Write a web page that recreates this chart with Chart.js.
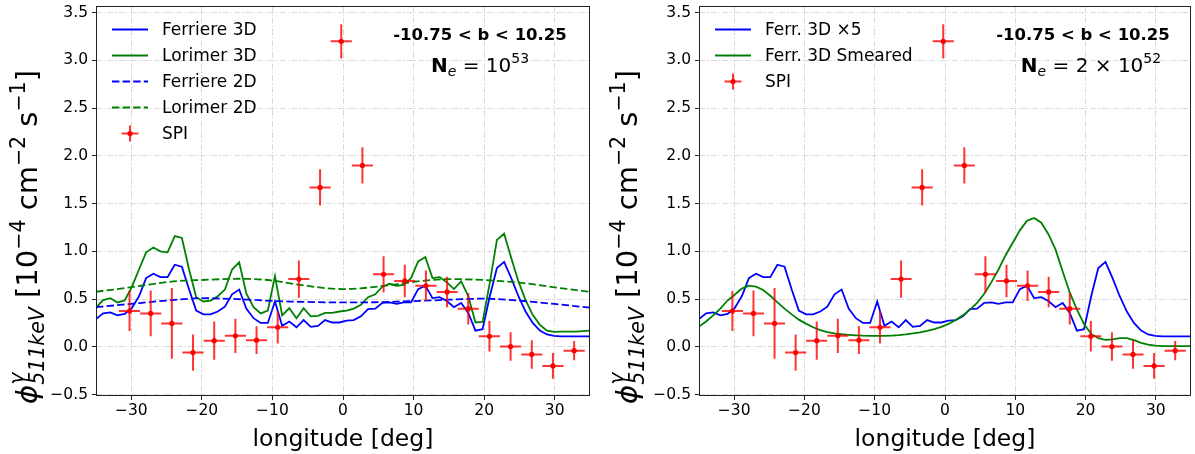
<!DOCTYPE html>
<html>
<head>
<meta charset="utf-8">
<script src="https://cdn.jsdelivr.net/npm/chart.js@4.4.1/dist/chart.umd.min.js"></script>
<style>
  body { margin: 0; background: #fff; width: 1195px; height: 454px; overflow: hidden; position: relative; }
  .panel { position: absolute; top: 0; height: 454px; }
</style>
</head>
<body>
<div class="panel" style="left:0;width:600px"><canvas id="left" width="600" height="454" style="width:600px;height:454px"></canvas></div>
<div class="panel" style="left:600px;width:595px"><canvas id="right" width="595" height="454" style="width:595px;height:454px"></canvas></div>
<script>
const FONT = "'DejaVu Sans', sans-serif";
const BLUE = '#0000ff', GREEN = '#008000', RED = '#ff0000';
const DASH = [7.4, 3.2];

// axis ticks
const xTicks = [-30, -20, -10, 0, 10, 20, 30];
const yTicks = [-0.5, 0, 0.5, 1, 1.5, 2, 2.5, 3, 3.5];

// model grid (deg)
const lon3d = [-35, -33.99, -32.97, -31.96, -30.94, -29.93, -28.91, -27.9, -26.88, -25.87,
  -24.86, -23.84, -22.83, -21.81, -20.8, -19.78, -18.77, -17.75, -16.74, -15.72,
  -14.71, -13.7, -12.68, -11.67, -10.65, -9.64, -8.62, -7.61, -6.59, -5.58,
  -4.57, -3.55, -2.54, -1.52, -0.51, 0.51, 1.52, 2.54, 3.55, 4.57,
  5.58, 6.59, 7.61, 8.62, 9.64, 10.65, 11.67, 12.68, 13.7, 14.71,
  15.72, 16.74, 17.75, 18.77, 19.78, 20.8, 21.81, 22.83, 23.84, 24.86,
  25.87, 26.88, 27.9, 28.91, 29.93, 30.94, 31.96, 32.97, 33.99, 35];

const ferriere3d = [.29, .35, .36, .33, .345, .405, .53, .72, .765, .73,
  .73, .86, .84, .60, .38, .34, .34, .37, .42, .55,
  .60, .40, .30, .25, .25, .475, .22, .265, .205, .28,
  .21, .22, .28, .255, .255, .275, .28, .32, .395, .40,
  .46, .465, .45, .465, .465, .605, .64, .51, .52, .48,
  .415, .46, .355, .17, .185, .53, .825, .89, .72, .53,
  .37, .25, .17, .13, .115, .11, .11, .11, .11, .11];

const lorimer3d = [.41, .49, .51, .465, .485, .625, .81, .99, 1.04, 1.0,
  .99, 1.16, 1.14, .81, .52, .475, .485, .53, .60, .81,
  .885, .56, .415, .35, .38, .74, .33, .405, .30, .405,
  .32, .325, .355, .355, .37, .38, .40, .44, .52, .55,
  .63, .66, .64, .65, .72, .895, .94, .72, .73, .675,
  .605, .685, .53, .255, .26, .67, 1.12, 1.185, .93, .685,
  .49, .335, .23, .17, .157, .16, .16, .16, .165, .17];

const smeared3d = [.213, .265, .33, .40, .485, .545, .61, .64, .63, .595,
  .535, .465, .40, .34, .285, .243, .205, .175, .155, .14,
  .132, .126, .121, .117, .115, .114, .115, .118, .122, .13,
  .14, .152, .168, .186, .21, .24, .28, .33, .39, .46,
  .555, .675, .81, .96, 1.09, 1.22, 1.32, 1.35, 1.30, 1.18,
  1.02, .79, .57, .39, .24, .135, .09, .074, .078, .092,
  .092, .07, .042, .022, .012, .008, .007, .007, .007, .007];

const lon2d = [-35, -32.5, -30, -27.5, -25, -22.5, -20, -17.5, -15, -12.5, -10, -7.5, -5, -2.5,
  0, 2.5, 5, 7.5, 10, 12.5, 15, 17.5, 20, 22.5, 25, 27.5, 30, 32.5, 35];
const ferriere2d = [.415, .433, .45, .468, .485, .50, .51, .506, .50, .491, .481, .474, .47, .466,
  .465, .465, .468, .473, .479, .486, .494, .501, .505, .497, .484, .467, .449, .43, .41];
const lorimer2d = [.577, .60, .625, .652, .678, .693, .70, .708, .713, .71, .694, .665, .638, .615,
  .605, .613, .632, .655, .68, .70, .71, .707, .70, .688, .672, .65, .623, .60, .575];

// SPI measurements
const spiLon = [-30.25, -27.25, -24.25, -21.25, -18.25, -15.25, -12.25, -9.25, -6.25, -3.25, -0.25,
  2.75, 5.75, 8.75, 11.75, 14.75, 17.75, 20.75, 23.75, 26.75, 29.75, 32.75];
const spiFlux = [.375, .35, .245, -.06, .065, .115, .07, .205, .71, 1.67, 3.2,
  1.9, .76, .69, .64, .575, .40, .11, .003, -.08, -.20, -.04];
const spiErr = [.21, .24, .37, .19, .20, .18, .145, .17, .195, .19, .18,
  .19, .19, .17, .16, .16, .165, .16, .15, .15, .135, .10];
const spiHalfBin = 1.5;

const pts = (xs, ys) => xs.map((x, i) => ({ x, y: ys[i] }));
const minus = s => String(s).replace('-', '\u2212');

function curve(label, xs, ys, color, dash, order, smooth) {
  return {
    label, data: pts(xs, ys), showLine: true, borderColor: color, backgroundColor: color,
    borderWidth: 1.8, borderDash: dash || [], pointRadius: 0, order,
    cubicInterpolationMode: smooth ? 'monotone' : 'default'
  };
}

function spiSet() {
  return {
    label: 'SPI', data: pts(spiLon, spiFlux), showLine: false, order: 0,
    pointRadius: 2.6, pointStyle: 'circle', backgroundColor: RED, borderWidth: 0, errors: spiErr
  };
}

// rich text: runs of {t, f, dy, stack}
function drawRuns(ctx, runs, x, y) {
  let w = 0, prevStart = 0, prevW = 0;
  const lay = [];
  for (const r of runs) {
    ctx.font = r.f;
    const rw = ctx.measureText(r.t).width;
    if (r.stack) {
      lay.push({ r, x: prevStart });
      prevW = Math.max(prevW, rw);
      w = prevStart + prevW;
    } else {
      lay.push({ r, x: w });
      prevStart = w; prevW = rw; w += rw;
    }
  }
  const x0 = x - w / 2;
  ctx.textAlign = 'left';
  ctx.textBaseline = 'alphabetic';
  for (const l of lay) {
    ctx.font = l.r.f;
    ctx.fillText(l.r.t, x0 + l.x, y + (l.r.dy || 0));
  }
}

const F = (s, style) => `${style ? style + ' ' : ''}${s}px ${FONT}`;
const YMAIN = 29, YSCRIPT = 20.5;
const yTitleRuns = [
  { t: '\u03d5', f: F(YMAIN, 'italic') },
  { t: '\u03b3', f: F(YSCRIPT, 'italic'), dy: -13 },
  { t: '511keV', f: F(YSCRIPT, 'italic'), dy: 7, stack: true },
  { t: ' [10', f: F(YMAIN) },
  { t: '\u22124', f: F(YSCRIPT), dy: -12 },
  { t: ' cm', f: F(YMAIN) },
  { t: '\u22122', f: F(YSCRIPT), dy: -12 },
  { t: ' s', f: F(YMAIN) },
  { t: '\u22121', f: F(YSCRIPT), dy: -12 },
  { t: ']', f: F(YMAIN) }
];

const panels = {
  left: {
    yWidth: 96, padRight: 10,
    band: '-10.75 < b < 10.25',
    ne: [{ t: 'N', f: F(20, 'bold') }, { t: 'e', f: F(14, 'italic'), dy: 4 },
      { t: ' = 10', f: F(20) }, { t: '53', f: F(14), dy: -9 }],
    neDx: 384
  },
  right: {
    yWidth: 99, padRight: 2,
    band: '-10.75 < b < 10.25',
    ne: [{ t: 'N', f: F(20, 'bold') }, { t: 'e', f: F(14, 'italic'), dy: 4 },
      { t: ' = 2 \u00d7 10', f: F(20) }, { t: '52', f: F(14), dy: -9 }],
    neDx: 392
  }
};

const decor = {
  id: 'decor',
  beforeDatasetDraw(chart, args) {
    const ds = chart.data.datasets[args.index];
    if (!ds.errors) return;
    const { ctx, scales: { x, y } } = chart;
    ctx.save();
    ctx.strokeStyle = 'rgba(255,0,0,0.8)';
    ctx.lineWidth = 2;
    ds.data.forEach((p, i) => {
      const px = x.getPixelForValue(p.x), py = y.getPixelForValue(p.y);
      ctx.beginPath();
      ctx.moveTo(x.getPixelForValue(p.x - spiHalfBin), py);
      ctx.lineTo(x.getPixelForValue(p.x + spiHalfBin), py);
      ctx.moveTo(px, y.getPixelForValue(p.y - ds.errors[i]));
      ctx.lineTo(px, y.getPixelForValue(p.y + ds.errors[i]));
      ctx.stroke();
    });
    ctx.restore();
  },
  afterDraw(chart) {
    const cfg = panels[chart.canvas.id];
    const { ctx, chartArea: a } = chart;
    ctx.save();
    // frame
    ctx.strokeStyle = '#222';
    ctx.lineWidth = 1;
    ctx.strokeRect(a.left + 0.5, a.top + 0.5, a.right - a.left - 1, a.bottom - a.top - 1);

    // legend
    const items = chart.data.datasets.slice().sort((p, q) => p.rank - q.rank);
    items.forEach((ds, i) => {
      const yy = a.top + 23.5 + 26 * i;
      if (ds.showLine) {
        ctx.strokeStyle = ds.borderColor;
        ctx.lineWidth = 1.8;
        ctx.setLineDash(ds.borderDash);
        ctx.beginPath();
        ctx.moveTo(a.left + 16, yy);
        ctx.lineTo(a.left + 52, yy);
        ctx.stroke();
        ctx.setLineDash([]);
      } else {
        const cx = a.left + 34;
        ctx.strokeStyle = 'rgba(255,0,0,0.8)';
        ctx.lineWidth = 2;
        ctx.beginPath();
        ctx.moveTo(cx - 8.5, yy); ctx.lineTo(cx + 8.5, yy);
        ctx.moveTo(cx, yy - 8); ctx.lineTo(cx, yy + 8);
        ctx.stroke();
        ctx.fillStyle = RED;
        ctx.beginPath(); ctx.arc(cx, yy, 2.6, 0, 2 * Math.PI); ctx.fill();
      }
      ctx.fillStyle = '#000';
      ctx.font = F(17);
      ctx.textAlign = 'left';
      ctx.textBaseline = 'middle';
      ctx.fillText(ds.label, a.left + 66, yy + 1);
    });

    // annotations
    ctx.fillStyle = '#000';
    ctx.font = F(16.5, 'bold');
    ctx.textAlign = 'center';
    ctx.textBaseline = 'middle';
    ctx.fillText(cfg.band, a.left + 384, a.top + 30);
    drawRuns(ctx, cfg.ne, a.left + cfg.neDx, a.top + 66);

    // axis titles
    ctx.font = F(23.5);
    ctx.textAlign = 'center';
    ctx.textBaseline = 'alphabetic';
    ctx.fillText('longitude [deg]', (a.left + a.right) / 2, 446);
    ctx.translate(37, 237);
    ctx.rotate(-Math.PI / 2);
    drawRuns(ctx, yTitleRuns, 0, 0);
    ctx.restore();
  }
};

function makeChart(id, datasets) {
  const cfg = panels[id];
  const grid = { color: '#d9d9d9', lineWidth: 1, tickLength: 4, tickColor: '#222', tickWidth: 1 };
  const tickFont = { family: 'DejaVu Sans', size: 15.5 };
  return new Chart(document.getElementById(id), {
    type: 'scatter',
    data: { datasets },
    options: {
      responsive: false,
      animation: false,
      events: [],
      layout: { padding: { top: 6, right: cfg.padRight, bottom: 0, left: 0 } },
      plugins: { legend: { display: false }, tooltip: { enabled: false } },
      scales: {
        x: {
          type: 'linear', min: -35, max: 35,
          grid, border: { display: false, dash: [6, 2, 1.5, 2] },
          afterBuildTicks: s => { s.ticks = xTicks.map(v => ({ value: v })); },
          afterFit: s => { s.height = 58; s.paddingLeft = 0; s.paddingRight = 0; },
          ticks: { font: tickFont, color: '#000', padding: 2, maxRotation: 0, callback: v => minus(v) }
        },
        y: {
          type: 'linear', min: -0.515, max: 3.57,
          grid, border: { display: false, dash: [6, 2, 1.5, 2] },
          afterBuildTicks: s => { s.ticks = yTicks.map(v => ({ value: v })); },
          afterFit: s => { s.width = cfg.yWidth; s.paddingTop = 0; s.paddingBottom = 0; },
          ticks: { font: tickFont, color: '#000', padding: 4, callback: v => minus(v.toFixed(1)) }
        }
      }
    },
    plugins: [decor]
  });
}

const leftSets = [
  Object.assign(curve('Ferriere 3D', lon3d, ferriere3d, BLUE, [], 4), { rank: 0 }),
  Object.assign(curve('Lorimer 3D', lon3d, lorimer3d, GREEN, [], 3), { rank: 1 }),
  Object.assign(curve('Ferriere 2D', lon2d, ferriere2d, BLUE, DASH, 2, true), { rank: 2 }),
  Object.assign(curve('Lorimer 2D', lon2d, lorimer2d, GREEN, DASH, 1, true), { rank: 3 }),
  Object.assign(spiSet(), { rank: 4 })
];
const rightSets = [
  Object.assign(curve('Ferr. 3D \u00d75', lon3d, ferriere3d, BLUE, [], 2), { rank: 0 }),
  Object.assign(curve('Ferr. 3D Smeared', lon3d, smeared3d, GREEN, [], 1), { rank: 1 }),
  Object.assign(spiSet(), { rank: 2 })
];

makeChart('left', leftSets);
makeChart('right', rightSets);
</script>
</body>
</html>
